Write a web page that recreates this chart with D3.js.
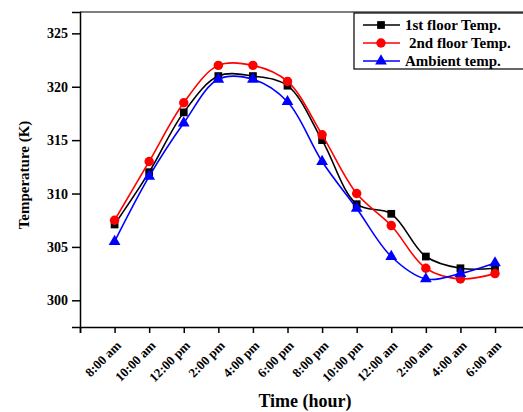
<!DOCTYPE html>
<html>
<head>
<meta charset="utf-8">
<script src="https://cdn.jsdelivr.net/npm/d3@7"></script>
<style>
  body { margin: 0; background: #fff; }
  text { font-family: "Liberation Serif", "Times New Roman", serif; font-weight: bold; }
</style>
</head>
<body>
<div id="plot_area"></div>
<script>
// Chart size
const w = 523;
const h = 412;

// Data
const times = ['8:00 am', '10:00 am', '12:00 pm', '2:00 pm', '4:00 pm', '6:00 pm',
               '8:00 pm', '10:00 pm', '12:00 am', '2:00 am', '4:00 am', '6:00 am'];
const firstFloor = [307.1, 312.0, 317.6, 321.0, 321.0, 320.1, 315.0, 309.0, 308.1, 304.1, 303.0, 303.0];
const secondFloor = [307.5, 313.0, 318.5, 322.0, 322.0, 320.5, 315.5, 310.0, 307.0, 303.0, 302.0, 302.5];
const ambient = [305.5, 311.6, 316.6, 320.7, 320.7, 318.6, 313.0, 308.6, 304.1, 302.0, 302.5, 303.5];
const yTicks = [300, 305, 310, 315, 320, 325];

const series = [
    { name: '1st floor Temp.', values: firstFloor, color: 'black', marker: d3.symbolSquare, size: 60, dx: 0 },
    { name: '2nd floor Temp.', values: secondFloor, color: 'red', marker: d3.symbolCircle, size: 70, dx: 4 },
    { name: 'Ambient temp.', values: ambient, color: 'blue', marker: d3.symbolTriangle, size: 60, dx: 0 }
];

// Scales
const xScale = d3.scaleLinear()
                .domain([-1, 12])
                .range([80, 529.6]);

const yScale = d3.scaleLinear()
                .domain([297.5, 327])
                .range([327, 12]);

const svg = d3.select('#plot_area')
            .append('svg')
            .attr('width', w)
            .attr('height', h);

// Frame top line
svg.append('line')
   .attr('x1', 80).attr('x2', w)
   .attr('y1', 12).attr('y2', 12)
   .attr('stroke', '#555')
   .attr('stroke-width', 1.5);

// Lines and markers
const line = d3.line()
               .x((d, i) => xScale(i))
               .y((d) => yScale(d))
               .curve(d3.curveCatmullRom.alpha(0.5));

series.forEach(function (s) {
    svg.append('path')
       .datum(s.values)
       .attr('fill', 'none')
       .attr('stroke', s.color)
       .attr('stroke-width', 1.6)
       .attr('d', line);

    svg.selectAll(null)
       .data(s.values)
       .enter()
       .append('path')
       .attr('d', d3.symbol().type(s.marker).size(s.size))
       .attr('transform', (d, i) => 'translate(' + xScale(i) + ',' + yScale(d) + ')')
       .attr('fill', s.color);
});

// x-axis
const xAxis = svg.append('g')
   .attr('transform', 'translate(0,327)')
   .call(d3.axisBottom(xScale)
           .tickValues(d3.range(-1, 13))
           .tickSize(6)
           .tickFormat(''));
xAxis.select('.domain').attr('stroke-width', 1.5);
xAxis.selectAll('.tick line').attr('stroke-width', 1.5);

svg.selectAll('.xlabel')
   .data(times)
   .enter()
   .append('text')
   .attr('text-anchor', 'end')
   .attr('transform', (d, i) => 'translate(' + (xScale(i) + 4) + ',343)rotate(-45)')
   .attr('dy', '0.35em')
   .style('font-size', '13px')
   .text((d) => d);

svg.append('text')
   .attr('x', 305)
   .attr('y', 407)
   .attr('text-anchor', 'middle')
   .style('font-size', '18px')
   .text('Time (hour)');

// y-axis
const yAxis = svg.append('g')
   .attr('transform', 'translate(80,0)')
   .call(d3.axisLeft(yScale)
           .tickValues(yTicks)
           .tickSize(8)
           .tickPadding(4));
yAxis.select('.domain').attr('stroke-width', 1.5);
yAxis.selectAll('.tick line').attr('stroke-width', 1.5);
yAxis.selectAll('.tick text')
     .style('font-size', '14px')
     .style('font-family', '"Liberation Serif", serif')
     .style('font-weight', 'bold');

svg.append('text')
   .attr('text-anchor', 'middle')
   .attr('transform', 'translate(29,175)rotate(-90)')
   .style('font-size', '15px')
   .text('Temperature (K)');

// Legend
svg.append('rect')
   .attr('x', 354).attr('y', 13)
   .attr('width', 175).attr('height', 56)
   .attr('fill', 'white')
   .attr('stroke', 'black')
   .attr('stroke-width', 1.2);

const legendY = [25, 43, 61];
series.forEach(function (s, i) {
    svg.append('line')
       .attr('x1', 363).attr('x2', 400)
       .attr('y1', legendY[i]).attr('y2', legendY[i])
       .attr('stroke', s.color)
       .attr('stroke-width', 1.6);
    svg.append('path')
       .attr('d', d3.symbol().type(s.marker).size(s.size))
       .attr('transform', 'translate(381,' + legendY[i] + ')')
       .attr('fill', s.color);
    svg.append('text')
       .attr('x', 405 + s.dx)
       .attr('y', legendY[i])
       .attr('dy', '0.35em')
       .style('font-size', '15px')
       .text(s.name);
});
</script>
</body>
</html>
